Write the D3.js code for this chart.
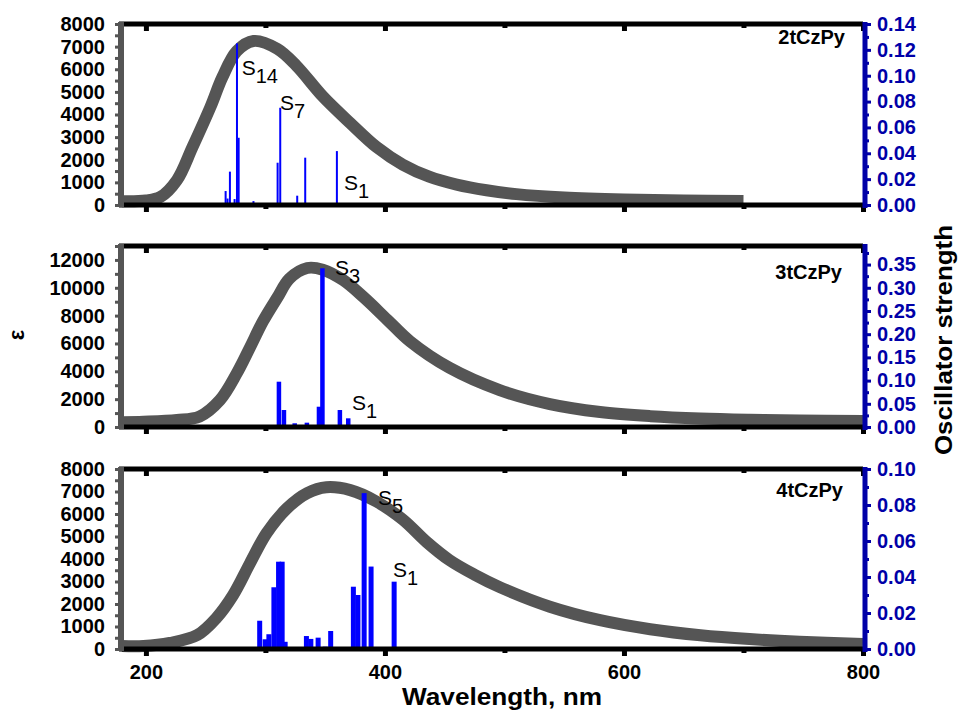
<!DOCTYPE html>
<html>
<head>
<meta charset="utf-8">
<script src="https://cdn.jsdelivr.net/npm/d3@7"></script>
<style>
  body { margin: 0; background: #fff; }
  text { font-family: "Liberation Sans", Arial, sans-serif; }
</style>
</head>
<body>
<svg id="chart" width="958" height="711"></svg>
<script>
// ---- data ----
// absorption spectra (wavelength nm, epsilon)
const wl2 = [180, 200, 212, 226, 239, 254, 264, 276, 290, 310, 326, 348, 371, 393, 415, 437, 460, 485, 510, 550, 600, 650, 700];
const eps2 = [170, 200, 350, 1100, 2560, 4330, 5650, 6800, 7250, 6900, 6150, 4800, 3620, 2560, 1780, 1250, 900, 650, 480, 330, 240, 195, 175];

const wl3 = [180, 198, 226, 245, 262, 276, 287, 298, 310, 320, 335, 348, 365, 382, 402, 421, 454, 496, 538, 580, 622, 664, 705, 747, 800];
const eps3 = [350, 380, 500, 760, 1940, 3850, 5700, 7600, 9300, 10650, 11420, 11300, 10550, 9330, 7700, 6150, 4250, 2650, 1650, 1080, 780, 610, 520, 465, 430];

const wl4 = [180, 198, 220, 243, 259, 273, 287, 301, 318, 335, 351, 371, 393, 415, 435, 454, 475, 496, 538, 580, 622, 664, 705, 747, 800];
const eps4 = [130, 130, 270, 620, 1380, 2400, 3800, 5150, 6250, 6930, 7190, 7060, 6550, 5750, 4750, 3950, 3300, 2750, 1880, 1280, 880, 610, 440, 320, 220];

// calculated transitions (wavelength nm, oscillator strength)
const barNm2 = [266.7, 268.3, 270.3, 274.2, 276.2, 277.6, 290, 310.2, 312.4, 326.6, 333.3, 359.8, 362];
const barF2 = [0.0108, 0.005, 0.0258, 0.0046, 0.125, 0.052, 0.003, 0.0327, 0.0752, 0.0072, 0.0366, 0.0417, 0.001];

const barNm3 = [311.3, 315.5, 324.5, 334.7, 344.8, 347.7, 362.3, 369.3];
const barF3 = [0.0976, 0.0366, 0.008, 0.0093, 0.0437, 0.342, 0.0366, 0.0187];

const barNm4 = [295.2, 299.8, 302.9, 307.1, 311, 314, 316.5, 334.3, 338, 344.1, 350, 354.6, 362, 373.6, 377.4, 382.6, 388.4, 407.7];
const barF4 = [0.0157, 0.0054, 0.0082, 0.0343, 0.0485, 0.0485, 0.004, 0.0072, 0.0056, 0.0063, 0.0013, 0.01, 0.0005, 0.0346, 0.030, 0.0866, 0.0458, 0.0374];

// state labels: [main, subscript, nm, epsilon at baseline]
const states2 = [['S', '14', 280.1, 5750], ['S', '7', 312.1, 4200], ['S', '1', 365.7, 660]];
const states3 = [['S', '3', 358.2, 10900], ['S', '1', 372.4, 1220]];
const states4 = [['S', '5', 394.1, 6400], ['S', '1', 406.7, 3200]];

const names = ['2tCzPy', '3tCzPy', '4tCzPy'];
const epsMax = [8000, 13000, 8000];
const epsStep = [1000, 2000, 1000];
const epsTop = [8000, 12000, 8000];
const fMax = [0.14, 0.39, 0.10];
const fStep = [0.02, 0.05, 0.02];
const fTop = [0.14, 0.35, 0.10];
const xMajor = [200, 400, 600, 800];
const xMinor = [300, 500, 700];

// ---- layout ----
const svg = d3.select('#chart');
const left = 122, right = 863;
const x = d3.scaleLinear().domain([180, 800]).range([left, right]);
const frames = [[24, 205], [246, 427], [469, 649]];
const nameY = [44, 279, 497];
const nameX = [845, 842, 843];
const barW = [2, 4.5, 5];
const curveColor = '#555555';
const axisGrey = '#555555';
const blue = '#0000ff';
const axisBlue = '#0000a8';
const tickFont = 20;

const panels = [
  { wl: wl2, eps: eps2, nm: barNm2, f: barF2, states: states2 },
  { wl: wl3, eps: eps3, nm: barNm3, f: barF3, states: states3 },
  { wl: wl4, eps: eps4, nm: barNm4, f: barF4, states: states4 },
];

const range = (a, b, s) => d3.range(a, b + s / 2, s).map(v => +v.toFixed(4));

panels.forEach((p, i) => {
  const [top, bottom] = frames[i];
  const yL = d3.scaleLinear().domain([0, epsMax[i]]).range([bottom, top]);
  const yR = d3.scaleLinear().domain([0, fMax[i]]).range([bottom, top]);
  const g = svg.append('g');

  // spectrum
  const pts = p.wl.map((w, k) => [w, p.eps[k]]);
  g.append('path')
    .datum(pts)
    .attr('fill', 'none')
    .attr('stroke', curveColor)
    .attr('stroke-width', 12)
    .attr('d', d3.line().x(d => x(d[0])).y(d => yL(d[1])).curve(d3.curveCatmullRom.alpha(0.5)));

  // oscillator strength sticks
  g.selectAll('rect.bar')
    .data(p.nm.map((n, k) => [n, p.f[k]]))
    .enter().append('rect')
    .attr('x', d => x(d[0]) - barW[i] / 2)
    .attr('width', barW[i])
    .attr('y', d => yR(d[1]))
    .attr('height', d => yR(0) - yR(d[1]))
    .attr('fill', blue);

  // state labels
  p.states.forEach(s => {
    const t = g.append('text')
      .attr('x', x(s[2]))
      .attr('y', yL(s[3]))
      .attr('font-size', 21)
      .attr('fill', '#000');
    t.append('tspan').text(s[0]);
    t.append('tspan').attr('dy', 8).attr('font-size', 20).text(s[1]);
  });

  // panel name
  g.append('text')
    .attr('x', nameX[i]).attr('y', nameY[i])
    .attr('text-anchor', 'end')
    .attr('font-size', 20).attr('font-weight', 'bold')
    .text(names[i]);

  // top / bottom frame with x ticks pointing down
  [top, bottom].forEach((yy, j) => {
    const showLabels = (i === 2 && j === 1);
    const axMaj = d3.axisBottom(x).tickValues(xMajor).tickSize(7)
      .tickFormat(showLabels ? d3.format('d') : '');
    const axMin = d3.axisBottom(x).tickValues(xMinor).tickSize(4).tickFormat('');
    const ga = g.append('g').attr('transform', `translate(0,${yy})`).call(axMaj);
    const gm = g.append('g').attr('transform', `translate(0,${yy})`).call(axMin);
    [ga, gm].forEach(a => {
      a.select('.domain').remove();
      a.selectAll('line').attr('stroke', '#000').attr('stroke-width', 5);
    });
    ga.selectAll('text')
      .attr('font-size', tickFont).attr('font-weight', 'bold').attr('fill', '#000')
      .attr('dy', '1em');
    g.append('line')
      .attr('x1', left - 3).attr('x2', right)
      .attr('y1', yy).attr('y2', yy)
      .attr('stroke', '#000').attr('stroke-width', 5);
  });

  // left epsilon axis (grey)
  const lMaj = range(0, epsTop[i], epsStep[i]);
  const lMin = range(epsStep[i] / 2, epsMax[i], epsStep[i]).filter(v => v <= epsMax[i]);
  const gl = g.append('g').attr('transform', `translate(${left - 1},0)`)
    .call(d3.axisLeft(yL).tickValues(lMaj).tickSize(6).tickPadding(10).tickFormat(d3.format('d')));
  const glm = g.append('g').attr('transform', `translate(${left - 1},0)`)
    .call(d3.axisLeft(yL).tickValues(lMin).tickSize(6).tickFormat(''));
  [gl, glm].forEach(a => {
    a.select('.domain').remove();
    a.selectAll('line').attr('stroke', axisGrey).attr('stroke-width', 3);
  });
  gl.selectAll('text').attr('font-size', tickFont).attr('font-weight', 'bold').attr('fill', '#000');
  g.append('line')
    .attr('x1', left - 1).attr('x2', left - 1)
    .attr('y1', top - 2).attr('y2', bottom + 2)
    .attr('stroke', axisGrey).attr('stroke-width', 6);

  // right oscillator-strength axis (blue)
  const rMaj = range(0, fTop[i], fStep[i]);
  const rMin = range(fStep[i] / 2, fMax[i], fStep[i]).filter(v => v <= fMax[i]);
  const gr = g.append('g').attr('transform', `translate(${right + 2},0)`)
    .call(d3.axisRight(yR).tickValues(rMaj).tickSize(6).tickPadding(6).tickFormat(d3.format('.2f')));
  const grm = g.append('g').attr('transform', `translate(${right + 2},0)`)
    .call(d3.axisRight(yR).tickValues(rMin).tickSize(4).tickFormat(''));
  [gr, grm].forEach(a => {
    a.select('.domain').remove();
    a.selectAll('line').attr('stroke', axisBlue).attr('stroke-width', 3);
  });
  gr.selectAll('text').attr('font-size', tickFont).attr('font-weight', 'bold').attr('fill', axisBlue);
  g.append('line')
    .attr('x1', right + 2).attr('x2', right + 2)
    .attr('y1', top - 2).attr('y2', bottom + 3)
    .attr('stroke', axisBlue).attr('stroke-width', 5);
});

// axis titles
svg.append('text')
  .attr('transform', 'translate(24,335) rotate(-90)')
  .attr('text-anchor', 'middle')
  .attr('font-size', 22).attr('font-weight', 'bold')
  .text('ε');

svg.append('text')
  .attr('transform', 'translate(952,340) rotate(-90)')
  .attr('text-anchor', 'middle')
  .attr('font-size', 24).attr('font-weight', 'bold')
  .attr('textLength', 230).attr('lengthAdjust', 'spacingAndGlyphs')
  .text('Oscillator strength');

svg.append('text')
  .attr('x', 502).attr('y', 705)
  .attr('text-anchor', 'middle')
  .attr('font-size', 24).attr('font-weight', 'bold')
  .attr('textLength', 200).attr('lengthAdjust', 'spacingAndGlyphs')
  .text('Wavelength, nm');
</script>
</body>
</html>
